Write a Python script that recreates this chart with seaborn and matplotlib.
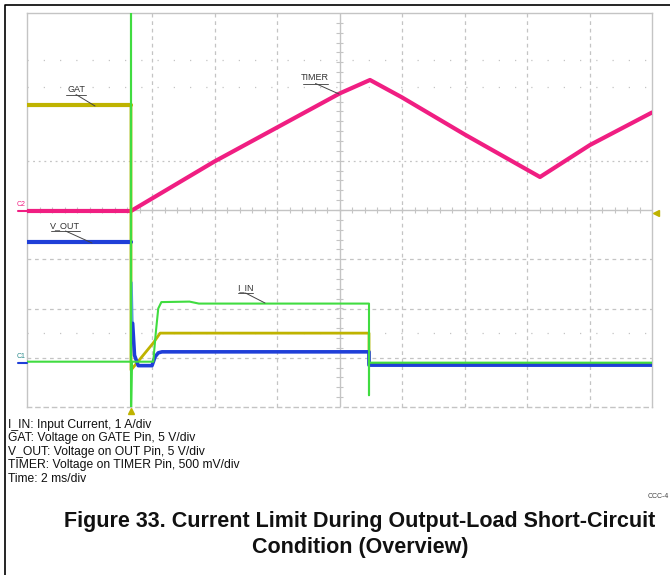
import numpy as np
import matplotlib
matplotlib.use("Agg")
import matplotlib.pyplot as plt
import seaborn as sns

# Screen units: time in divisions (2 ms/div), level in divisions from screen centre
timer_t = [0.0, 1.664, 2.992, 5.008, 5.488, 5.995, 7.008, 8.208, 9.008, 10.0]
timer_v = [-0.02, -0.02, 0.98, 2.37, 2.64, 2.29, 1.53, 0.67, 1.32, 1.98]

gat_t = [0.0, 1.664, 1.664, 2.02, 2.13, 5.472, 5.472, 10.0]
gat_v = [2.13, 2.13, -3.25, -2.70, -2.50, -2.50, -3.12, -3.12]

vout_pre_t = [0.0, 1.664]
vout_pre_v = [-0.65, -0.65]
vout_t = [1.675, 1.69, 1.72, 1.78, 2.00, 2.05, 2.10, 2.16, 5.472, 5.472, 10.0]
vout_v = [-1.47, -2.30, -2.95, -3.16, -3.16, -2.98, -2.90, -2.88, -2.88, -3.15, -3.15]

iin_t = [0.0, 1.664, 1.664, 1.664, 1.68, 2.02, 2.06, 2.10, 2.15, 2.60, 2.75,
         5.472, 5.472, 5.472, 5.49, 10.0]
iin_v = [-3.08, -3.08, 4.3, -4.3, -3.08, -3.08, -2.5, -2.0, -1.87, -1.86, -1.90,
         -1.90, -3.76, -3.10, -3.10, -3.10]

legend_lines = [
    "I_IN: Input Current, 1 A/div",
    "GAT: Voltage on GATE Pin, 5 V/div",
    "V_OUT: Voltage on OUT Pin, 5 V/div",
    "TIMER: Voltage on TIMER Pin, 500 mV/div",
    "Time: 2 ms/div",
]
title_lines = ["Figure 33. Current Limit During Output-Load Short-Circuit",
               "Condition (Overview)"]

C_TIMER = "#f01e82"
C_GAT = "#bfb300"
C_VOUT = "#1f3fd8"
C_IIN = "#40dc40"
C_GRID = "#c4c4c4"

sns.set_style("white")
plt.rcParams["font.family"] = ["Liberation Sans", "DejaVu Sans"]

W, H = 670, 575
fig = plt.figure(figsize=(W / 100, H / 100), dpi=100)


def fpx(x, y):
    return (x / W, 1 - y / H)


ax = fig.add_axes([27 / W, 1 - 407 / H, 625 / W, 394 / H])
ax.set_xlim(0, 10)
ax.set_ylim(-4, 4)
ax.set_xticks([])
ax.set_yticks([])
for side in ax.spines.values():
    side.set_color(C_GRID)
    side.set_linewidth(1.0)
ax.spines["bottom"].set_linestyle((0, (3, 3)))

# graticule
for xv in [2, 3, 4, 6, 7, 8, 9]:
    ax.axvline(xv, color=C_GRID, lw=0.9, ls=(0, (3, 3)), zorder=0)
for yv in [-1, -2, -3]:
    ax.axhline(yv, color=C_GRID, lw=0.9, ls=(0, (3, 3)), zorder=0)
ax.axhline(1, color=C_GRID, lw=0.9, ls=(0, (1.5, 3)), zorder=0)
for yv in [3.05, 2.5, -2.5]:
    ax.axhline(yv, color=C_GRID, lw=0.9, ls=(0, (1, 12)), zorder=0)
ax.axvline(5, color=C_GRID, lw=1.0, zorder=0)
ax.axhline(0, color=C_GRID, lw=1.0, zorder=0)
ticks_x = np.arange(0.2, 10, 0.2)
ax.vlines(ticks_x, -0.06, 0.06, color=C_GRID, lw=0.8, zorder=0)
ticks_y = np.arange(-3.8, 4, 0.2)
ax.hlines(ticks_y, 4.95, 5.05, color=C_GRID, lw=0.8, zorder=0)

# traces
sns.lineplot(x=timer_t, y=timer_v, estimator=None, sort=False, color=C_TIMER,
             lw=3.0, ax=ax, zorder=3)
sns.lineplot(x=gat_t[:2], y=gat_v[:2], estimator=None, sort=False, color=C_GAT,
             lw=3.0, ax=ax, zorder=3)
sns.lineplot(x=gat_t[1:], y=gat_v[1:], estimator=None, sort=False, color=C_GAT,
             lw=2.0, ax=ax, zorder=3)
sns.lineplot(x=vout_pre_t, y=vout_pre_v, estimator=None, sort=False, color=C_VOUT,
             lw=3.0, ax=ax, zorder=4)
sns.lineplot(x=vout_t[:2], y=vout_v[:2], estimator=None, sort=False, color="#5aa0d8",
             lw=1.5, ax=ax, zorder=4)
sns.lineplot(x=vout_t[1:], y=vout_v[1:], estimator=None, sort=False, color=C_VOUT,
             lw=2.6, ax=ax, zorder=4)
sns.lineplot(x=iin_t, y=iin_v, estimator=None, sort=False, color=C_IIN,
             lw=1.5, ax=ax, zorder=5)


# trace name tags with underline and leader
def tag(text, tx, ty, x0, x1, lx, ly):
    fig.text(*fpx(tx, ty), text, ha="center", va="center", fontsize=6.5,
             color="#333333")
    fig.add_artist(plt.Line2D([x0 / W, x1 / W], [1 - (ty + 5.5) / H] * 2,
                              color="#555555", lw=0.7))
    fig.add_artist(plt.Line2D([((x0 + x1) / 2) / W, lx / W],
                              [1 - (ty + 5.5) / H, 1 - ly / H],
                              color="#444444", lw=0.7))


tag("GAT", 76, 89, 66, 86, 95, 106)
tag("V_OUT", 65, 225.5, 51, 80, 92, 243)
tag("TIMER", 315, 78, 303, 328, 339, 94)
tag("I_IN", 245, 287.5, 238, 253, 265, 303)

# channel ground markers and trigger markers
fig.text(*fpx(21, 205), "C2", fontsize=5, color=C_TIMER, ha="center", va="center")
fig.text(*fpx(21, 357), "C1", fontsize=5, color="#2a8a8a", ha="center", va="center")
fig.add_artist(plt.Line2D([18 / W, 27 / W], [1 - 211 / H] * 2, color=C_TIMER, lw=1.5))
fig.add_artist(plt.Line2D([18 / W, 27 / W], [1 - 363 / H] * 2, color=C_VOUT, lw=1.5))
fig.add_artist(plt.Line2D([655.5 / W], [1 - 213 / H], marker="<", ms=5,
                          color=C_GAT, ls="none"))
fig.add_artist(plt.Line2D([131 / W], [1 - 411 / H], marker="^", ms=5,
                          color=C_GAT, ls="none"))

# channel description block
for i, line in enumerate(legend_lines):
    fig.text(*fpx(8, 425 + 13.4 * i), line, fontsize=8.7, color="#111111",
             ha="left", va="center")
fig.text(*fpx(648, 497), "CCC-4", fontsize=5, color="#444444", ha="left", va="center")

# caption
for i, line in enumerate(title_lines):
    fig.text(*fpx(360, 522 + 26 * i), line, fontsize=15.5, fontweight="bold",
             color="#111111", ha="center", va="center")

# page frame
fig.add_artist(plt.Line2D([5 / W, 5 / W, 1], [0, 1 - 5 / H, 1 - 5 / H],
                          color="black", lw=1.2))

fig.savefig("out.png", dpi=100)
